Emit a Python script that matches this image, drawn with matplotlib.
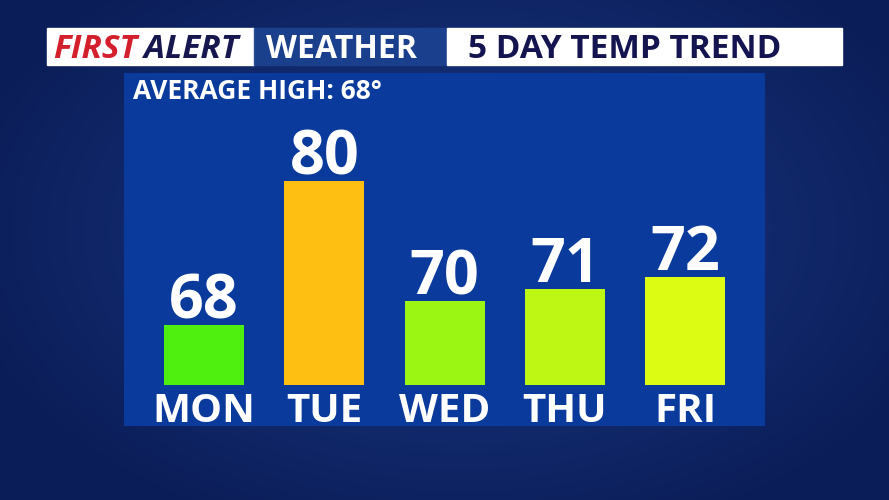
import numpy as np
import matplotlib
matplotlib.use("Agg")
from matplotlib import pyplot as plt
from matplotlib.patches import Rectangle

days = ["MON", "TUE", "WED", "THU", "FRI"]
highs = [68, 80, 70, 71, 72]
bar_colors = ["#4ff00f", "#ffbe12", "#9bf614", "#bff714", "#dcfc14"]
avg_high = 68
base = 63  # value at the bar baseline

FONT = ["Open Sans", "DejaVu Sans"]
W, H = 889, 500


def fx(px):
    return px / W


def fy(py):
    return 1 - py / H


fig = plt.figure(figsize=(W / 100, H / 100), dpi=100)

# Background: dark blue with a soft lighter centre.
bg = fig.add_axes([0, 0, 1, 1])
yy, xx = np.mgrid[0:H, 0:W]
r = np.sqrt(((xx - 460) / 520.0) ** 2 + ((yy - 230) / 330.0) ** 2)
t = np.clip(r, 0, 1)[..., None]
inner = np.array([0x1a, 0x3a, 0x86]) / 255
outer = np.array([0x0b, 0x1d, 0x58]) / 255
bg.imshow(inner * (1 - t) + outer * t, aspect="auto", extent=[0, W, H, 0])
bg.set_xlim(0, W)
bg.set_ylim(H, 0)
bg.axis("off")

# Header boxes.
bg.add_patch(Rectangle((47, 28), 207, 37, color="white", zorder=2))
bg.add_patch(Rectangle((254, 28), 193, 37, color="#1c4290", alpha=0.9, zorder=2))
bg.add_patch(Rectangle((447, 28), 395, 37, color="white", zorder=2))
t1 = bg.text(53, 58, "FIRST", color="#d4202c", fontsize=24, fontweight="bold",
             style="italic", family=FONT, zorder=3)
fig.canvas.draw()
bb = t1.get_window_extent()
bg.text(53 + bb.width + 7, 58, "ALERT", color="#17174f", fontsize=24,
        fontweight="bold", style="italic", family=FONT, zorder=3)
bg.text(266, 58, "WEATHER", color="white", fontsize=23, fontweight="bold",
        family=FONT, zorder=3)
bg.text(468, 58, "5 DAY TEMP TREND", color="#141450", fontsize=24,
        fontweight="bold", family=FONT, zorder=3)

# Chart panel.
left, right, top, bottom = 124, 765, 73, 426
ax = fig.add_axes([fx(left), fy(bottom), fx(right - left), fy(top) - fy(bottom)])
ax.set_facecolor("#0a3a9c")
px_per_deg = 12.0
ax.set_ylim(base - (bottom - 385) / px_per_deg, base + (385 - top) / px_per_deg)
spacing = 120.25
ax.set_xlim((left - 204) / spacing, (right - 204) / spacing)

x = np.arange(len(days))
heights = [h - base for h in highs]
ax.bar(x, heights, bottom=base, width=80 / spacing, color=bar_colors,
       edgecolor="none")
for i, h in enumerate(highs):
    ax.annotate(str(h), (i, h), xytext=(0, 5), textcoords="offset points",
                ha="center", va="baseline", color="white", fontsize=44,
                fontweight="bold", family=FONT)
    ax.annotate(days[i], (i, base), xytext=(0, -26.5), textcoords="offset points",
                ha="center", va="baseline", color="white", fontsize=29,
                fontweight="bold", family=FONT)

ax.text(9 / (right - left), 1 - 26 / (bottom - top), "AVERAGE HIGH: %d°" % avg_high,
        transform=ax.transAxes, color="white", fontsize=19, fontweight="bold",
        family=FONT, va="baseline")

ax.set_xticks([])
ax.set_yticks([])
for s in ax.spines.values():
    s.set_visible(False)

fig.savefig("out.png", dpi=100)
